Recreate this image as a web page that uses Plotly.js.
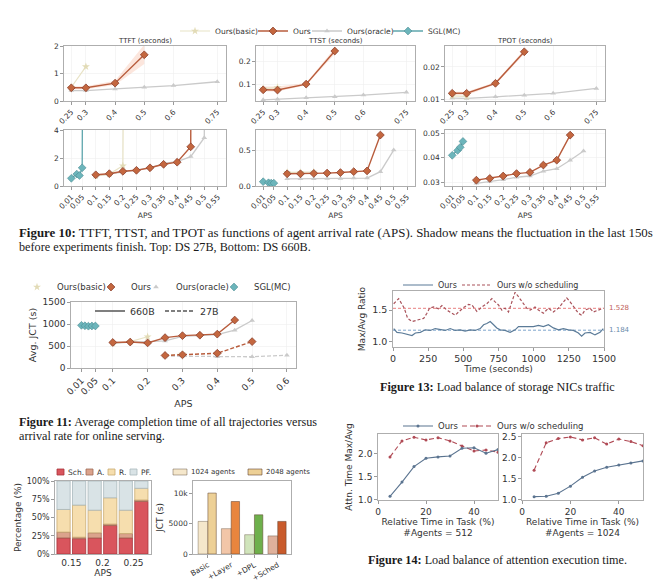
<!DOCTYPE html>
<html><head><meta charset="utf-8">
<script src="https://cdn.plot.ly/plotly-3.0.1.min.js"></script>
<style>body{margin:0;background:#fff}</style>
</head><body><div id="chart" style="width:660px;height:588px"></div>
<script>
// ================= DATA =================
// ---- Figure 10 (top: DS 27B, bottom: DS 660B) ----
const tickTop = [0.25, 0.3, 0.4, 0.5, 0.6, 0.75];
const tickTopText = ['0.25', '0.3', '0.4', '0.5', '0.6', '0.75'];
const tickBot = [0.01, 0.05, 0.1, 0.15, 0.2, 0.25, 0.3, 0.35, 0.4, 0.45, 0.5, 0.55];
const tickBotText = ['0.01', '0.05', '0.1', '0.15', '0.2', '0.25', '0.3', '0.35', '0.4', '0.45', '0.5', '0.55'];

const aps27Ours = [0.25, 0.3, 0.4, 0.5];
const aps27Oracle = [0.25, 0.3, 0.4, 0.5, 0.6, 0.75];
const aps27Basic = [0.25, 0.3];
const ttft27Ours = [0.48, 0.48, 0.65, 1.68];
const ttft27OursLo = [0.42, 0.43, 0.58, 1.35];
const ttft27OursHi = [0.54, 0.54, 0.74, 2.05];
const ttft27Oracle = [0.38, 0.38, 0.44, 0.5, 0.56, 0.7];
const ttft27Basic = [0.5, 1.25];
const ttst27Ours = [0.075, 0.074, 0.1, 0.245];
const ttst27OursLo = [0.068, 0.068, 0.095, 0.232];
const ttst27OursHi = [0.09, 0.09, 0.105, 0.258];
const ttst27Oracle = [0.031, 0.034, 0.04, 0.045, 0.052, 0.064];
const ttst27Basic = [0.08, 0.085];
const tpot27Ours = [0.0118, 0.0118, 0.0149, 0.0247];
const tpot27OursLo = [0.0112, 0.0112, 0.0145, 0.0240];
const tpot27OursHi = [0.0123, 0.0123, 0.0153, 0.0254];
const tpot27Oracle = [0.0103, 0.0102, 0.0107, 0.0112, 0.0118, 0.0133];
const tpot27Basic = [0.011, 0.0108];

const aps660SGL = [0.01, 0.03, 0.04, 0.05];
const aps660Ours = [0.1, 0.15, 0.2, 0.25, 0.3, 0.35, 0.4, 0.45];
const aps660Oracle = [0.1, 0.15, 0.2, 0.25, 0.3, 0.35, 0.4, 0.45, 0.5];
const aps660Basic = [0.1, 0.15, 0.2];
// TTFT 660B: last point of each series is the overload blow-up (far off scale)
const aps660SGLTtft = [0.01, 0.03, 0.04, 0.05, 0.056];
const ttft660SGL = [0.55, 0.85, 0.75, 1.3, 30];
const aps660BasicTtft = [0.1, 0.15, 0.2, 0.21];
const ttft660Basic = [0.72, 0.85, 1.45, 30];
const aps660OursTtft = [0.1, 0.15, 0.2, 0.25, 0.3, 0.35, 0.4, 0.45, 0.455];
const ttft660Ours = [0.8, 0.88, 1.05, 1.12, 1.3, 1.55, 1.7, 2.8, 30];
const aps660OracleTtft = [0.1, 0.15, 0.2, 0.25, 0.3, 0.35, 0.4, 0.45, 0.5, 0.506];
const ttft660Oracle = [0.7, 0.85, 1.0, 1.2, 1.3, 1.6, 1.75, 2.1, 3.45, 30];
const ttst660SGL = [0.06, 0.045, 0.04, 0.04];
const ttst660Basic = [0.19, 0.19, 0.195];
const ttst660Ours = [0.17, 0.17, 0.175, 0.18, 0.187, 0.2, 0.21, 0.71];
const ttst660Oracle = [0.1, 0.1, 0.1, 0.105, 0.105, 0.11, 0.11, 0.2, 0.5];
const tpot660SGL = [0.041, 0.043, 0.0443, 0.0467];
const tpot660Ours = [0.0308, 0.0315, 0.0325, 0.0335, 0.034, 0.037, 0.039, 0.0493];
const tpot660Oracle = [0.0295, 0.0302, 0.031, 0.032, 0.0325, 0.0345, 0.0355, 0.039, 0.0428];

// ---- Figure 11 (Avg. JCT) ----
const f11Ticks = [0.01, 0.05, 0.1, 0.2, 0.3, 0.4, 0.5, 0.6];
const f11TickText = ['0.01', '0.05', '0.1', '0.2', '0.3', '0.4', '0.5', '0.6'];
const jct660SGLAps = [0.01, 0.02, 0.03, 0.04, 0.05];
const jct660SGL = [970, 960, 950, 955, 955];
const jct660BasicAps = [0.1, 0.15, 0.2];
const jct660Basic = [560, 600, 710];
const jct660OursAps = [0.1, 0.15, 0.2, 0.25, 0.3, 0.35, 0.4, 0.45];
const jct660Ours = [580, 590, 570, 690, 735, 745, 770, 1090];
const jct660OracleAps = [0.1, 0.15, 0.2, 0.25, 0.3, 0.35, 0.4, 0.45, 0.5];
const jct660Oracle = [560, 590, 600, 615, 720, 740, 760, 860, 1080];
const jct27BasicAps = [0.25, 0.3];
const jct27Basic = [290, 320];
const jct27OursAps = [0.25, 0.3, 0.4, 0.5];
const jct27Ours = [285, 300, 335, 600];
const jct27OracleAps = [0.25, 0.3, 0.4, 0.5, 0.6];
const jct27Oracle = [270, 270, 258, 255, 290];

// ---- Figure 13 (storage NIC traffic) ----
const f13TimeOurs = [5, 28, 64, 111, 135, 159, 194, 230, 265, 300, 336, 371, 407, 442, 478, 513, 549, 584, 620, 644, 667, 691, 715, 738, 762, 797, 833, 868, 892, 928, 963, 998, 1034, 1069, 1105, 1140, 1176, 1211, 1247, 1282, 1318, 1341, 1365, 1401, 1436, 1472, 1495];
const f13Ours = [1.21, 1.15, 1.14, 1.12, 1.10, 1.14, 1.15, 1.19, 1.18, 1.21, 1.19, 1.18, 1.21, 1.18, 1.19, 1.17, 1.19, 1.18, 1.21, 1.27, 1.29, 1.32, 1.27, 1.22, 1.19, 1.18, 1.15, 1.19, 1.24, 1.24, 1.23, 1.24, 1.26, 1.24, 1.27, 1.22, 1.19, 1.21, 1.19, 1.18, 1.14, 1.09, 1.14, 1.15, 1.11, 1.15, 1.21];
const f13TimeNoSched = [5, 40, 80, 104, 135, 182, 218, 241, 260, 289, 324, 348, 383, 419, 442, 466, 502, 537, 561, 596, 632, 667, 703, 726, 750, 774, 797, 821, 845, 868, 892, 916, 951, 975, 1010, 1034, 1069, 1105, 1140, 1176, 1211, 1235, 1259, 1294, 1318, 1341, 1365, 1401, 1424, 1460, 1495];
const f13NoSched = [1.60, 1.68, 1.53, 1.37, 1.32, 1.35, 1.37, 1.45, 1.53, 1.55, 1.52, 1.57, 1.50, 1.45, 1.42, 1.47, 1.54, 1.59, 1.58, 1.48, 1.55, 1.60, 1.68, 1.63, 1.58, 1.50, 1.53, 1.47, 1.63, 1.78, 1.71, 1.63, 1.53, 1.50, 1.55, 1.50, 1.45, 1.53, 1.47, 1.53, 1.63, 1.69, 1.63, 1.53, 1.45, 1.42, 1.50, 1.53, 1.47, 1.50, 1.53];
const f13MeanOurs = 1.184;
const f13MeanNoSched = 1.528;
const f13Span = [0, 1500];

// ---- Figure 12 (left: breakdown, right: ablation) ----
const brkGroups = ['0.15', '0.2', '0.25'];
const brkSch = [22, 21, 22, 39, 22, 72];
const brkA = [8, 2, 7, 2, 6, 2];
const brkR = [31, 44, 31, 36, 32, 16];
const brkPF = [39, 33, 40, 23, 40, 10];
const ablCats = ['Basic', '+Layer', '+DPL', '+Sched'];
const abl1024 = [5400, 4200, 3200, 3000];
const abl2048 = [10100, 8700, 6500, 5400];

// ---- Figure 14 (attention load balance) ----
const f14Time = [5, 10, 15, 20, 25, 30, 35, 40, 45, 50];
const f14OursA512 = [1.07, 1.38, 1.72, 1.90, 1.93, 1.95, 2.12, 2.13, 2.01, 2.09];
const f14NoSchedA512 = [1.93, 2.28, 2.36, 2.30, 2.35, 2.28, 2.17, 2.06, 2.08, 2.03];
const f14OursA1024 = [1.07, 1.08, 1.15, 1.32, 1.53, 1.68, 1.77, 1.82, 1.87, 1.92];
const f14NoSchedA1024 = [1.70, 2.35, 2.45, 2.49, 2.42, 2.47, 2.32, 2.44, 2.38, 2.28];

// ================= DRAWING =================
const FONT = 'DejaVu Sans';
const SERIF = 'Liberation Serif';
const W = 660, H = 588;
const X = (a, b) => [a / W, b / W];
const Y = (t, b) => [1 - b / H, 1 - t / H];

const traces = [];
const layout = {
  width: W, height: H, margin: {l: 0, r: 0, t: 0, b: 0},
  paper_bgcolor: '#fff', plot_bgcolor: '#fff',
  font: {family: FONT, color: '#333'},
  barmode: 'overlay', hovermode: false, annotations: [], shapes: []
};

// legends: one legend per entry for exact placement
let legN = 0;
function leg(textX, cy, size) {
  legN++;
  const id = legN === 1 ? 'legend' : 'legend' + legN;
  layout[id] = {x: (textX - 40) / W, y: 1 - cy / H, xanchor: 'left', yanchor: 'middle',
    orientation: 'h', bgcolor: 'rgba(0,0,0,0)', borderwidth: 0,
    font: {family: FONT, size: size, color: '#333'}};
  return id;
}
// compact box legend key (matplotlib-style spacing)
function boxKey(x0, w, cy, h, fill, edge, label, size) {
  layout.shapes.push({type: 'rect', xref: 'paper', yref: 'paper',
    x0: x0 / W, x1: (x0 + w) / W, y0: 1 - (cy + h / 2) / H, y1: 1 - (cy - h / 2) / H,
    fillcolor: fill, line: {color: edge, width: 0.8}});
  layout.annotations.push({text: label, xref: 'paper', yref: 'paper', x: (x0 + w + 2) / W, y: 1 - cy / H,
    xanchor: 'left', yanchor: 'middle', showarrow: false, font: {family: FONT, size: size, color: '#333'}});
}

function axis(n, xd, yd, xo, yo) {
  const base = {showline: true, mirror: true, linecolor: '#9a9a9a', linewidth: 0.8,
    ticks: 'outside', ticklen: 3, tickcolor: '#9a9a9a', zeroline: false,
    showgrid: true, gridcolor: '#eeeeee', gridwidth: 0.6, fixedrange: true};
  const s = n === 1 ? '' : n;
  layout['xaxis' + s] = Object.assign({}, base, {domain: xd, anchor: 'y' + s}, xo);
  layout['yaxis' + s] = Object.assign({}, base, {domain: yd, anchor: 'x' + s}, yo);
}
function ref(n) { return n === 1 ? ['x', 'y'] : ['x' + n, 'y' + n]; }

function series(n, x, y, style, extra) {
  const [xa, ya] = ref(n);
  traces.push(Object.assign({type: 'scatter', mode: 'lines+markers', x: x, y: y,
    xaxis: xa, yaxis: ya, showlegend: false, cliponaxis: true}, style, extra || {}));
}
function band(n, x, lo, hi, color) {
  const [xa, ya] = ref(n);
  traces.push({type: 'scatter', mode: 'lines', x: x, y: lo, xaxis: xa, yaxis: ya,
    line: {width: 0}, showlegend: false});
  traces.push({type: 'scatter', mode: 'lines', x: x, y: hi, xaxis: xa, yaxis: ya,
    line: {width: 0}, fill: 'tonexty', fillcolor: color, showlegend: false});
}

const cBasic = '#e8e3c6', cOurs = '#b85c3c', cOracle = '#cacaca', cSGL = '#5ea6ad';
const sBasic = {name: 'Ours(basic)', line: {color: cBasic, width: 1.2},
  marker: {symbol: 'star', size: 6, color: '#e2dbb6'}};
const sOurs = {name: 'Ours', line: {color: cOurs, width: 1.4},
  marker: {symbol: 'diamond', size: 6, color: '#c4673f', line: {color: '#8a3f2c', width: 0.8}}};
const sOracle = {name: 'Ours(oracle)', line: {color: cOracle, width: 1.3},
  marker: {symbol: 'triangle-up', size: 5, color: cOracle}};
const sSGL = {name: 'SGL(MC)', line: {color: cSGL, width: 1.3},
  marker: {symbol: 'diamond', size: 6, color: '#6cb5bb', line: {color: '#4b8c92', width: 0.6}}};
const bandOurs = 'rgba(240,140,100,0.22)';

// ---- Figure 10 axes ----
const f10Cols = [[64, 226], [256, 415], [445, 605]];
const f10TopRows = [46, 101], f10BotRows = [130, 186];
const tf8 = {size: 7.5, color: '#333'};
const xTop = {range: [0.225, 0.78], tickmode: 'array', tickvals: tickTop, ticktext: tickTopText, tickangle: -45, tickfont: tf8};
const xBot = {range: [-0.017, 0.58], tickmode: 'array', tickvals: tickBot, ticktext: tickBotText, tickangle: -45, tickfont: tf8,
  title: {text: 'APS', font: {size: 7.5}, standoff: 1}};
axis(1, X(...f10Cols[0]), Y(...f10TopRows), xTop, {range: [0, 2], tickvals: [0, 1, 2], tickfont: tf8});
axis(2, X(...f10Cols[1]), Y(...f10TopRows), xTop, {range: [0.026, 0.267], tickvals: [0.1, 0.2], ticktext: ['0.1', '0.2'], tickfont: tf8});
axis(3, X(...f10Cols[2]), Y(...f10TopRows), xTop, {range: [0.0094, 0.0265], tickvals: [0.01, 0.02], ticktext: ['0.01', '0.02'], tickfont: tf8});
axis(4, X(...f10Cols[0]), Y(...f10BotRows), xBot, {range: [0, 4], tickvals: [0, 2, 4], tickfont: tf8});
axis(5, X(...f10Cols[1]), Y(...f10BotRows), xBot, {range: [0, 0.78], tickvals: [0, 0.5], ticktext: ['0.0', '0.5'], tickfont: tf8});
axis(6, X(...f10Cols[2]), Y(...f10BotRows), xBot, {range: [0.0284, 0.0514], tickvals: [0.03, 0.04, 0.05], ticktext: ['0.03', '0.04', '0.05'], tickfont: tf8});

const L1 = leg(215, 31, 7.5), L2 = leg(293, 31, 7.5), L3 = leg(347, 31, 7.5), L4 = leg(428, 31, 7.5);

// top 27B
band(1, aps27Ours, ttft27OursLo, ttft27OursHi, bandOurs);
series(1, aps27Oracle, ttft27Oracle, sOracle, {showlegend: true, legend: L3});
series(1, aps27Basic, ttft27Basic, sBasic, {showlegend: true, legend: L1});
series(1, aps27Ours, ttft27Ours, sOurs, {showlegend: true, legend: L2});
band(2, aps27Ours, ttst27OursLo, ttst27OursHi, bandOurs);
series(2, aps27Oracle, ttst27Oracle, sOracle);
series(2, aps27Basic, ttst27Basic, sBasic);
series(2, aps27Ours, ttst27Ours, sOurs);
band(3, aps27Ours, tpot27OursLo, tpot27OursHi, bandOurs);
series(3, aps27Oracle, tpot27Oracle, sOracle);
series(3, aps27Basic, tpot27Basic, sBasic);
series(3, aps27Ours, tpot27Ours, sOurs);
// bottom 660B
series(4, aps660OracleTtft, ttft660Oracle, sOracle);
series(4, aps660BasicTtft, ttft660Basic, sBasic);
series(4, aps660OursTtft, ttft660Ours, sOurs);
series(4, aps660SGLTtft, ttft660SGL, sSGL, {showlegend: true, legend: L4});
series(5, aps660Oracle, ttst660Oracle, sOracle);
series(5, aps660Basic, ttst660Basic, sBasic);
series(5, aps660Ours, ttst660Ours, sOurs);
series(5, aps660SGL, ttst660SGL, sSGL);
series(6, aps660Oracle, tpot660Oracle, sOracle);
series(6, aps660Ours, tpot660Ours, sOurs);
series(6, aps660SGL, tpot660SGL, sSGL);

const f10Titles = ['TTFT (seconds)', 'TTST (seconds)', 'TPOT (seconds)'];
f10Titles.forEach((t, i) => layout.annotations.push({text: t, xref: 'paper', yref: 'paper',
  x: (f10Cols[i][0] + f10Cols[i][1]) / 2 / W, y: 1 - 41 / H, xanchor: 'center', yanchor: 'middle',
  showarrow: false, font: {family: FONT, size: 7, color: '#333'}}));

// ---- Figure 11 ----
axis(7, X(71, 296), Y(302, 368),
  {range: [-0.02, 0.626], tickmode: 'array', tickvals: f11Ticks, ticktext: f11TickText, tickangle: -45,
   tickfont: {size: 9}, title: {text: 'APS', font: {size: 9.5}, standoff: 4}},
  {range: [0, 1500], tickvals: [0, 500, 1000, 1500], tickfont: {size: 9},
   title: {text: 'Avg. JCT (s)', font: {size: 9.5}, standoff: 4}});
function withDash(s) { return Object.assign({}, s, {line: Object.assign({}, s.line, {dash: '4px,2px'})}); }
series(7, jct660OracleAps, jct660Oracle, sOracle);
series(7, jct660BasicAps, jct660Basic, sBasic);
series(7, jct660OursAps, jct660Ours, sOurs);
series(7, jct660SGLAps, jct660SGL, sSGL);
series(7, jct27OracleAps, jct27Oracle, withDash(sOracle));
series(7, jct27BasicAps, jct27Basic, withDash(sBasic));
series(7, jct27OursAps, jct27Ours, withDash(sOurs));
// legend-only entries (marker keys)
const L5 = leg(57, 287, 8.5), L6 = leg(131, 287, 8.5), L7 = leg(176, 287, 8.5), L8 = leg(254, 287, 8.5);
[[sBasic, L5], [sOurs, L6], [sOracle, L7], [sSGL, L8]].forEach(([s, l]) =>
  series(7, [null], [null], s, {mode: 'markers', showlegend: true, legend: l}));
const L9 = leg(130, 311, 9.5), L10 = leg(200, 311, 9.5);
series(7, [null], [null], {name: '660B', mode: 'lines', line: {color: '#555', width: 1.5}}, {showlegend: true, legend: L9});
series(7, [null], [null], {name: '27B', mode: 'lines', line: {color: '#555', width: 1.5, dash: '4px,2px'}}, {showlegend: true, legend: L10});

// ---- Figure 13 ----
axis(8, X(393, 604), Y(291, 347),
  {range: [0, 1500], tickvals: [0, 250, 500, 750, 1000, 1250, 1500], tickfont: {size: 9.5}, showgrid: false,
   title: {text: 'Time (seconds)', font: {size: 9}, standoff: 2}},
  {range: [0.92, 1.8], tickvals: [1.0, 1.5], ticktext: ['1.0', '1.5'], tickfont: {size: 9.5}, showgrid: false,
   title: {text: 'Max/Avg Ratio', font: {size: 9}, standoff: 4}});
const L11 = leg(438, 285, 8), L12 = leg(497, 285, 8);
series(8, f13Span, [f13MeanNoSched, f13MeanNoSched], {mode: 'lines', line: {color: '#e88080', width: 1, dash: '3px,2px'}});
series(8, f13Span, [f13MeanOurs, f13MeanOurs], {mode: 'lines', line: {color: '#7ea6cc', width: 1, dash: '3px,2px'}});
series(8, f13TimeOurs, f13Ours, {name: 'Ours', mode: 'lines', line: {color: '#5b7b98', width: 1.2}}, {showlegend: true, legend: L11});
series(8, f13TimeNoSched, f13NoSched, {name: 'Ours w/o scheduling', mode: 'lines', line: {color: '#a9525a', width: 1.2, dash: '3px,2px'}}, {showlegend: true, legend: L12});
layout.annotations.push({text: f13MeanNoSched.toFixed(3), xref: 'x8 domain', yref: 'y8', x: 1, y: f13MeanNoSched,
  xanchor: 'left', xshift: 3, showarrow: false, font: {size: 7, color: '#c0605a'}});
layout.annotations.push({text: f13MeanOurs.toFixed(3), xref: 'x8 domain', yref: 'y8', x: 1, y: f13MeanOurs,
  xanchor: 'left', xshift: 3, showarrow: false, font: {size: 7, color: '#6a8aaa'}});

// ---- Figure 12 left: breakdown stacked bars ----
const brkX = brkSch.map((_, i) => i);
const brkTickVals = brkGroups.map((_, g) => 2 * g + 0.5);
axis(9, X(55, 151), Y(481, 554),
  {range: [-0.55, 5.62], tickvals: brkTickVals, ticktext: brkGroups, ticks: '', showgrid: false, tickfont: {size: 9},
   title: {text: 'APS', font: {size: 9}, standoff: 0}},
  {range: [0, 100], tickvals: [0, 25, 50, 75, 100], ticktext: ['0%', '25%', '50%', '75%', '100%'], tickfont: {size: 8}, showgrid: false,
   title: {text: 'Percentage (%)', font: {size: 9}, standoff: 3}});
const brkParts = [
  {name: 'Sch.', v: brkSch, c: '#d9555d', e: '#a8323a'},
  {name: 'A.', v: brkA, c: '#dba38c', e: '#a06a55'},
  {name: 'R.', v: brkR, c: '#f6deae', e: '#c9ab72'},
  {name: 'PF.', v: brkPF, c: '#d9e3e6', e: '#a9b9bd'}];
const brkLegX = [57, 86, 108, 130];
let cum = brkX.map(() => 0);
brkParts.forEach((p, k) => {
  traces.push({type: 'bar', x: brkX, y: p.v, base: cum.slice(), width: 0.85, name: p.name,
    xaxis: 'x9', yaxis: 'y9', marker: {color: p.c, line: {color: p.e, width: 0.8}}, showlegend: false});
  cum = cum.map((c, i) => c + p.v[i]);
  boxKey(brkLegX[k], 7, 472, 6, p.c, p.e, p.name, 7.5);
});

// ---- Figure 12 right: ablation ----
axis(10, X(193, 291), Y(481, 554),
  {type: 'category', range: [-0.64, 3.57], tickangle: -30, tickfont: {size: 7.5}, showgrid: false, ticks: 'outside'},
  {range: [0, 12100], tickvals: [0, 5000, 10000], tickfont: {size: 7.5}, showgrid: false,
   title: {text: 'JCT (s)', font: {size: 9}, standoff: 3}});
const c1024 = ['#f5e7cb', '#f2c6a8', '#d0e4bb', '#dfb19c'];
const c2048 = ['#edd096', '#e8853e', '#6eb04c', '#c95b2c'];
const e1024 = 'rgba(90,70,50,0.55)', e2048 = 'rgba(90,60,40,0.7)';
traces.push({type: 'bar', x: ablCats, y: abl1024, width: 0.42, offset: -0.42, name: '1024 agents',
  xaxis: 'x10', yaxis: 'y10', marker: {color: c1024, line: {color: e1024, width: 0.7}}, showlegend: false});
traces.push({type: 'bar', x: ablCats, y: abl2048, width: 0.36, offset: 0, name: '2048 agents',
  xaxis: 'x10', yaxis: 'y10', marker: {color: c2048, line: {color: e2048, width: 0.7}}, showlegend: false});
boxKey(173, 14, 472, 6, c1024[0], e1024, '1024 agents', 7);
boxKey(248, 14, 472, 6, c2048[0], e2048, '2048 agents', 7);

// ---- Figure 14 ----
const f14x = {range: [0, 50], tickvals: [0, 20, 40], tickfont: {size: 9}, showgrid: false};
axis(11, X(378, 498), Y(434, 500),
  Object.assign({}, f14x, {title: {text: 'Relative Time in Task (%)<br>#Agents = 512', font: {size: 9}, standoff: 2}}),
  {range: [0.99, 2.43], tickvals: [1.0, 1.5, 2.0], ticktext: ['1.0', '1.5', '2.0'], tickfont: {size: 9}, showgrid: false,
   title: {text: 'Attn. Time Max/Avg', font: {size: 9}, standoff: 3}});
axis(12, X(522, 643), Y(434, 500),
  Object.assign({}, f14x, {title: {text: 'Relative Time in Task (%)<br>#Agents = 1024', font: {size: 9}, standoff: 2}}),
  {range: [0.99, 2.56], tickvals: [1.0, 1.5, 2.0, 2.5], ticktext: ['1.0', '1.5', '2.0', '2.5'], tickfont: {size: 9}, showgrid: false});
const sF14Ours = {name: 'Ours', line: {color: '#5b7490', width: 1.1}, marker: {symbol: 'circle', size: 3, color: '#5b7490'}};
const sF14No = {name: 'Ours w/o scheduling', line: {color: '#b04a55', width: 1.1, dash: '5px,3px'}, marker: {symbol: 'circle', size: 3, color: '#b04a55'}};
const L19 = leg(438, 426, 8.5), L20 = leg(497, 426, 8.5);
series(11, f14Time, f14NoSchedA512, sF14No, {showlegend: true, legend: L20});
series(11, f14Time, f14OursA512, sF14Ours, {showlegend: true, legend: L19});
series(12, f14Time, f14NoSchedA1024, sF14No);
series(12, f14Time, f14OursA1024, sF14Ours);

// ---- Captions ----
function cap(text, x, y, anchor, size) {
  layout.annotations.push({text: text, xref: 'paper', yref: 'paper', x: x / W, y: 1 - y / H,
    xanchor: anchor, yanchor: 'middle', showarrow: false, align: 'left',
    font: {family: SERIF, size: size || 12.2, color: '#1a1a1a'}});
}
cap('<b>Figure 10:</b> TTFT, TTST, and TPOT as functions of agent arrival rate (APS). Shadow means the fluctuation in the last 150s', 17, 233, 'left', 12.9);
cap('before experiments finish. Top: DS 27B, Bottom: DS 660B.', 17, 247, 'left');
cap('<b>Figure 11:</b> Average completion time of all trajectories versus', 17, 422, 'left');
cap('arrival rate for online serving.', 17, 436, 'left');
cap('<b>Figure 13:</b> Load balance of storage NICs traffic', 497, 387, 'center');
cap('<b>Figure 14:</b> Load balance of attention execution time.', 497, 560, 'center');

Plotly.newPlot('chart', traces, layout, {staticPlot: true, displayModeBar: false});
</script></body></html>
